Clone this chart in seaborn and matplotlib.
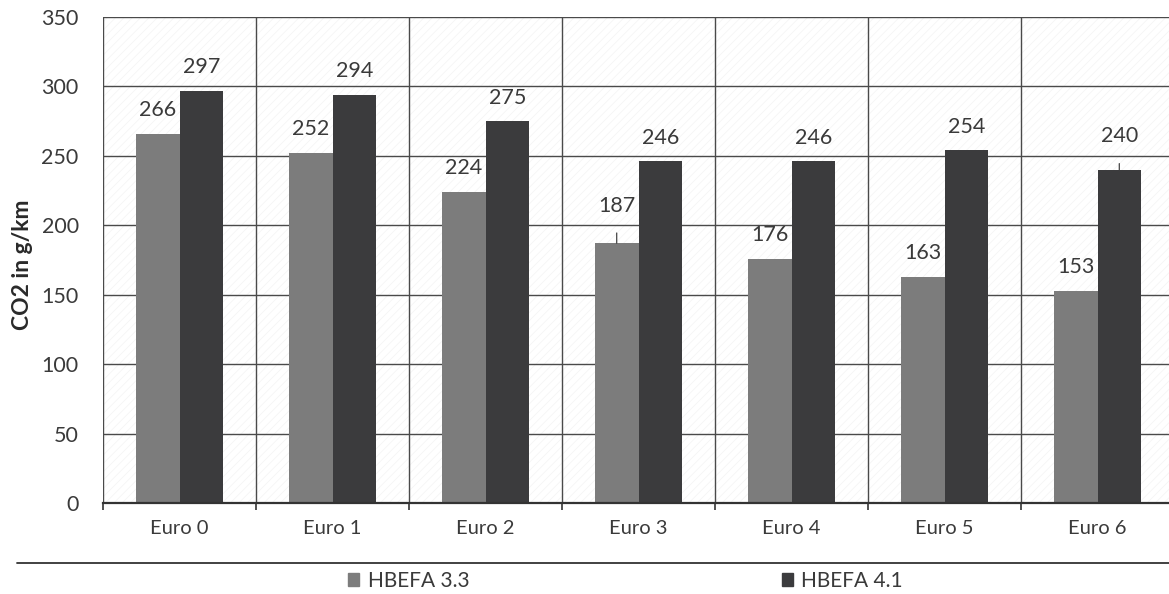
import matplotlib.pyplot as plt
import matplotlib.lines as mlines
import seaborn as sns
import pandas as pd

classes = ['Euro 0', 'Euro 1', 'Euro 2', 'Euro 3', 'Euro 4', 'Euro 5', 'Euro 6']
hbefa33 = [266, 252, 224, 187, 176, 163, 153]
hbefa41 = [297, 294, 275, 246, 246, 254, 240]
series = ['HBEFA 3.3', 'HBEFA 4.1']

df = pd.DataFrame({
    'Class': classes * 2,
    'Version': [series[0]] * len(classes) + [series[1]] * len(classes),
    'CO2': hbefa33 + hbefa41,
})

sns.set_style('white')
plt.rcParams['font.family'] = ['Lato', 'DejaVu Sans']
plt.rcParams['hatch.linewidth'] = 0.4

fig = plt.figure(figsize=(11.69, 5.94), dpi=100)
ax = fig.add_axes([103 / 1169, 1 - 503 / 594, 1071 / 1169, 486 / 594])

# faint diagonal texture of the scanned plot area
ax.patch.set_hatch('////')
ax.patch.set_edgecolor('#f1f1f1')

sns.barplot(data=df, x='Class', y='CO2', hue='Version', order=classes, hue_order=series,
            palette={'HBEFA 3.3': '#7c7c7c', 'HBEFA 4.1': '#3b3b3d'},
            width=0.57, saturation=1, ax=ax, legend=False, errorbar=None, linewidth=0)

# data labels, a few of them lifted with a leader line like in the original
lift = {(0, 3): 27, (1, 6): 24}
for si, cont in enumerate(ax.containers):
    for ci, bar in enumerate(cont):
        xc = bar.get_x() + bar.get_width() / 2
        h = bar.get_height()
        off = lift.get((si, ci), 17)
        kw = {}
        if (si, ci) in lift:
            kw['arrowprops'] = dict(arrowstyle='-', color='#444444', lw=0.9, shrinkA=10, shrinkB=0)
        ax.annotate(f'{int(h)}', xy=(xc, h), xytext=(0, off), textcoords='offset points',
                    ha='center', va='center', fontsize=15.5, color='#3a3a3a', **kw)

ax.set_ylim(0, 350)
ax.set_xlim(-0.5, len(classes) - 0.5)
ax.set_yticks(range(0, 351, 50))
ax.set_xticks([i - 0.5 for i in range(len(classes) + 1)], minor=True)
ax.set_axisbelow(True)
ax.grid(True, which='major', axis='y', color='#4a4a4a', lw=1)
ax.grid(True, which='minor', axis='x', color='#4a4a4a', lw=1)
ax.tick_params(axis='x', which='major', length=0, pad=12, labelsize=14.5, colors='#3a3a3a')
ax.tick_params(axis='x', which='minor', length=5, width=1.2, color='#333333', direction='out', bottom=True)
ax.tick_params(axis='y', labelsize=15.5, colors='#3a3a3a', length=0, pad=17.5)
ax.set_xlabel('')
ax.set_ylabel('CO2 in g/km', fontsize=16.5, fontweight='bold', color='#2a2a2a')
ax.yaxis.set_label_coords(-0.065, 0.49)
for side in ['top', 'right', 'left']:
    ax.spines[side].set_visible(False)
ax.spines['bottom'].set_color('#333333')
ax.spines['bottom'].set_linewidth(1.6)

# separator line above the legend
fig.add_artist(mlines.Line2D([17 / 1169, 1.0], [1 - 563 / 594] * 2, color='#333333', lw=1.3))

handles = [plt.Rectangle((0, 0), 1, 1, color=c) for c in ['#7c7c7c', '#3b3b3d']]
fig.legend(handles, series, loc='center', bbox_to_anchor=(0.535, 1 - 581 / 594), ncol=2,
           frameon=False, fontsize=15, handlelength=0.55, handleheight=0.55, handletextpad=0.4,
           columnspacing=15, labelcolor='#3a3a3a')

fig.savefig('out.png', dpi=100)
